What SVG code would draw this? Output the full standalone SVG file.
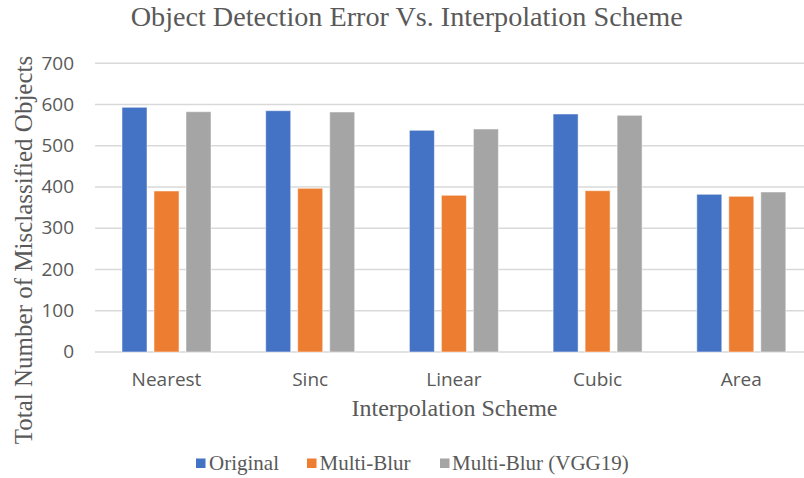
<svg xmlns="http://www.w3.org/2000/svg" width="804" height="478" viewBox="0 0 804 478">
<style>
.grid{stroke:#D9D9D9;stroke-width:1.5}
.bar{stroke:#ffffff;stroke-opacity:0.5;stroke-width:1}
.o{fill:#4472C4}
.m{fill:#ED7D31}
.v{fill:#A5A5A5}
.tick{font-family:"Open Sans","Liberation Sans",sans-serif;font-size:19px;fill:#595959}
.serif{font-family:"Liberation Serif","Times New Roman",serif;fill:#595959}
</style>
<rect width="804" height="478" fill="#ffffff"/>
<text id="title" class="serif" x="406.7" y="26" font-size="28" text-anchor="middle" textLength="552" lengthAdjust="spacingAndGlyphs">Object Detection Error Vs. Interpolation Scheme</text>
<g id="gridlines">
<line class="grid" x1="95" y1="63.3" x2="804" y2="63.3"/>
<line class="grid" x1="95" y1="104.5" x2="804" y2="104.5"/>
<line class="grid" x1="95" y1="145.8" x2="804" y2="145.8"/>
<line class="grid" x1="95" y1="187" x2="804" y2="187"/>
<line class="grid" x1="95" y1="228.3" x2="804" y2="228.3"/>
<line class="grid" x1="95" y1="269.5" x2="804" y2="269.5"/>
<line class="grid" x1="95" y1="310.8" x2="804" y2="310.8"/>
<line class="grid" x1="95" y1="352" x2="804" y2="352"/>
</g>
<g id="yticks" class="tick" text-anchor="end">
<text x="74" y="70">700</text>
<text x="74" y="111">600</text>
<text x="74" y="152">500</text>
<text x="74" y="193">400</text>
<text x="74" y="234">300</text>
<text x="74" y="275.5">200</text>
<text x="74" y="316.5">100</text>
<text x="74" y="357.5">0</text>
</g>
<g id="nearest">
<rect class="bar o" x="122" y="107.3" width="25" height="244.7"/>
<rect class="bar m" x="154" y="191" width="25" height="161"/>
<rect class="bar v" x="186" y="111.7" width="25" height="240.3"/>
<text class="tick" x="166.5" y="386" text-anchor="middle">Nearest</text>
</g>
<g id="sinc">
<rect class="bar o" x="265.7" y="110.7" width="25" height="241.3"/>
<rect class="bar m" x="297.7" y="188.3" width="25" height="163.7"/>
<rect class="bar v" x="329.7" y="112" width="25" height="240"/>
<text class="tick" x="310.2" y="386" text-anchor="middle">Sinc</text>
</g>
<g id="linear">
<rect class="bar o" x="409.4" y="130.3" width="25" height="221.7"/>
<rect class="bar m" x="441.4" y="195.3" width="25" height="156.7"/>
<rect class="bar v" x="473.4" y="129" width="25" height="223"/>
<text class="tick" x="453.9" y="386" text-anchor="middle">Linear</text>
</g>
<g id="cubic">
<rect class="bar o" x="553.1" y="114" width="25" height="238"/>
<rect class="bar m" x="585.1" y="190.7" width="25" height="161.3"/>
<rect class="bar v" x="617.1" y="115.3" width="25" height="236.7"/>
<text class="tick" x="597.6" y="386" text-anchor="middle">Cubic</text>
</g>
<g id="area">
<rect class="bar o" x="696.8" y="194.3" width="25" height="157.7"/>
<rect class="bar m" x="728.8" y="196.3" width="25" height="155.7"/>
<rect class="bar v" x="760.8" y="192" width="25" height="160"/>
<text class="tick" x="741.3" y="386" text-anchor="middle">Area</text>
</g>
<text id="xtitle" class="serif" x="454.5" y="416" font-size="24" text-anchor="middle">Interpolation Scheme</text>
<text id="ytitle" class="serif" font-size="25" text-anchor="middle" transform="translate(32 250) rotate(-90)">Total Number of Misclassified Objects</text>
<g id="legend">
<rect class="o" x="196" y="458.5" width="9.5" height="9.5"/>
<text class="serif" x="209" y="469.5" font-size="21">Original</text>
<rect class="m" x="307" y="458.5" width="9.5" height="9.5"/>
<text class="serif" x="319.5" y="469.5" font-size="21">Multi-Blur</text>
<rect class="v" x="440" y="458.5" width="9.5" height="9.5"/>
<text class="serif" x="452" y="469.5" font-size="21">Multi-Blur (VGG19)</text>
</g>
</svg>
